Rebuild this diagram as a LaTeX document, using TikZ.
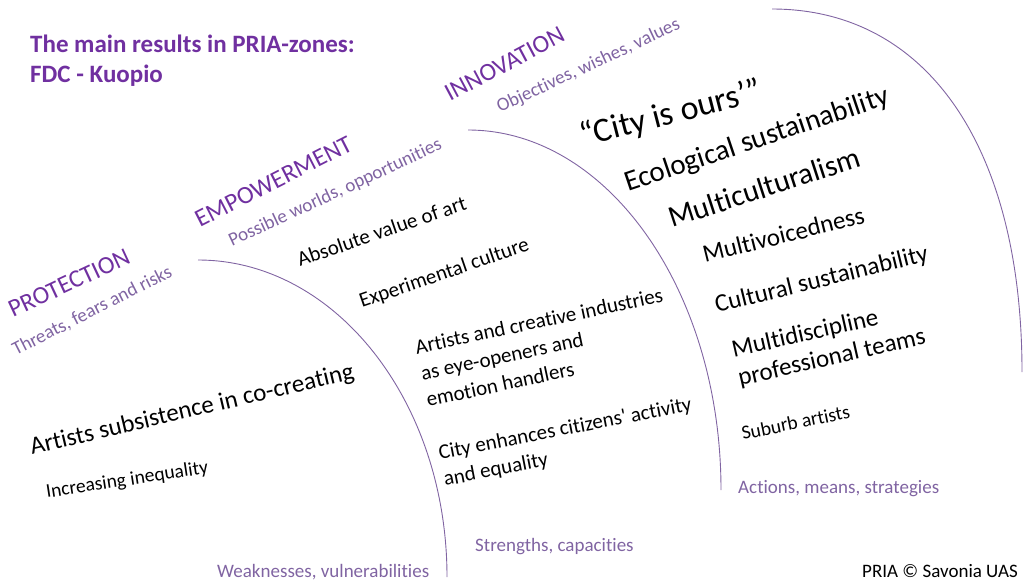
\documentclass[tikz,border=0pt]{standalone}
\usepackage{fontspec}
\setmainfont{Carlito}[Ligatures={TeXOff,NoCommon}]
\definecolor{zonepurple}{HTML}{7030A0}
\definecolor{lilac}{HTML}{8064A2}

\begin{document}
\begin{tikzpicture}[x=1pt,y=1pt,
  lbl/.style={anchor=base west,inner sep=0pt,align=left},
  zone/.style={lbl,text=zonepurple,font=\fontsize{25}{30}\selectfont},
  sub/.style={lbl,text=lilac,font=\fontsize{19}{23}\selectfont},
  txt/.style={lbl,font=\fontsize{#1}{#1}\selectfont},
  border/.style={draw=lilac,line width=0.9pt}]
\useasboundingbox (0,0) rectangle (1035,-582);
% zone borders
\draw[border] (198,-260) arc[start angle=90,end angle=0,x radius=249,y radius=317];
\draw[border] (468,-130) arc[start angle=90,end angle=0,x radius=253,y radius=360];
\draw[border] (772,-9) .. controls (927,-9) and (1022,-147) .. (1022,-372);
% heading (base = last line)
\node[lbl,text=zonepurple,font=\bfseries\fontsize{25}{30}\selectfont] (title) at (30,-82)
  {The main results in PRIA-zones:\\FDC - Kuopio};
% zone names
\node[zone,rotate=25] (prot) at (13,-318) {PROTECTION};
\node[sub,rotate=27] (prots) at (16,-356) {Threats, fears and risks};
\node[zone,rotate=27] (empw) at (200,-228) {EMPOWERMENT};
\node[sub,rotate=25] (empws) at (232,-247) {Possible worlds, opportunities};
\node[zone,rotate=28] (innv) at (450,-102) {INNOVATION};
\node[sub,rotate=25] (innvs) at (500,-113) {Objectives, wishes, values};
% protection
\node[txt=25,rotate=13.3] (subs) at (32,-455) {Artists subsistence in co-creating};
\node[txt=19.5,rotate=8.7] (ineq) at (47,-498) {Increasing inequality};
% empowerment
\node[txt=21,rotate=19] (absv) at (300,-267) {Absolute value of art};
\node[txt=21,rotate=19] (expc) at (362,-308) {Experimental culture};
\node[lbl,font=\fontsize{21}{27}\selectfont,rotate=12] (arts) at (428,-407)
  {Artists and creative industries\\as eye-openers and\\emotion handlers};
\node[lbl,font=\fontsize{21}{27}\selectfont,rotate=11] (city) at (445,-486)
  {City enhances citizens' activity\\and equality};
% innovation
\node[txt=34,rotate=14.5] (ours) at (583,-147) {“City is ours’”};
\node[txt=29,rotate=18.6] (ecol) at (628,-192) {Ecological sustainability};
\node[txt=30,rotate=18] (mcul) at (672,-228) {Multiculturalism};
\node[txt=25,rotate=14] (mvoi) at (705,-263) {Multivoicedness};
\node[txt=25,rotate=13.8] (csus) at (717,-313) {Cultural sustainability};
\node[lbl,font=\fontsize{25}{29}\selectfont,rotate=12.8] (mdis) at (740,-386)
  {Multidiscipline\\professional teams};
\node[txt=19.5,rotate=11.6] (subu) at (743,-440) {Suburb artists};
% bottom labels
\node[sub] (weak) at (217,-577) {Weaknesses, vulnerabilities};
\node[sub] (strg) at (475,-551) {Strengths, capacities};
\node[sub] (actn) at (738,-493) {Actions, means, strategies};
\node[txt=19] (pria) at (862,-577) {PRIA © Savonia UAS};
\end{tikzpicture}
\end{document}
